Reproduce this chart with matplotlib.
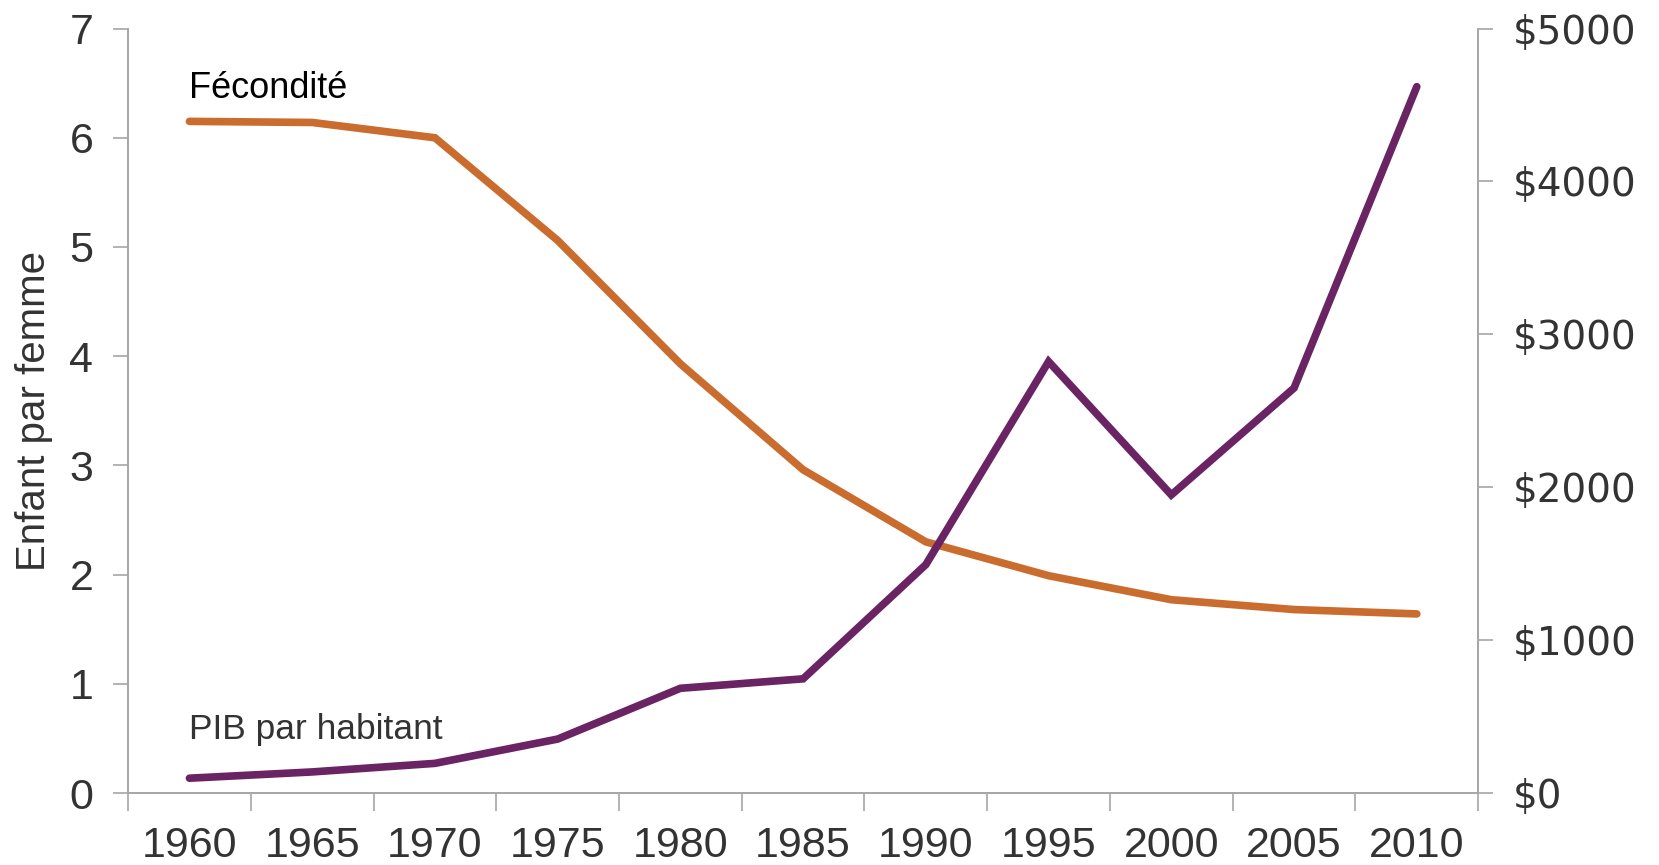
import matplotlib
matplotlib.use("Agg")
import matplotlib.pyplot as plt
import numpy as np

years = ["1960", "1965", "1970", "1975", "1980", "1985", "1990", "1995", "2000", "2005", "2010"]
fecondite = [6.15, 6.14, 6.00, 5.06, 3.93, 2.96, 2.30, 1.99, 1.77, 1.68, 1.64]
pib = [97, 138, 194, 353, 685, 747, 1494, 2822, 1950, 2649, 4620]
left_ticks = [0, 1, 2, 3, 4, 5, 6, 7]
right_ticks = [0, 1000, 2000, 3000, 4000, 5000]

orange = "#C96C2E"
purple = "#6A2363"
txt = "#333333"
grey = "#A6A6A6"

fig = plt.figure(figsize=(16.59, 8.65), dpi=100)
ax = fig.add_axes([0.0772, 0.0832, 0.8138, 0.8838])
ax2 = ax.twinx()

x = np.arange(len(years))
ax.plot(x, fecondite, color=orange, lw=5.5, solid_capstyle="round", solid_joinstyle="miter", zorder=3)
ax2.plot(x, pib, color=purple, lw=5.5, solid_capstyle="round", solid_joinstyle="miter", zorder=3)

ax.set_xlim(-0.5, len(years) - 0.5)
ax.set_ylim(0, 7)
ax2.set_ylim(0, 5000)

ax.set_xticks(x)
ax.set_xticklabels(years, fontname="Liberation Sans", fontsize=31, color=txt)
ax.set_xticks(np.arange(-0.5, len(years), 1.0), minor=True)
ax.tick_params(axis="x", which="major", length=0, pad=24)
ax.tick_params(axis="x", which="minor", length=13, width=1.2, color=grey, direction="out")

ax.set_yticks(left_ticks)
ax.set_yticklabels([str(t) for t in left_ticks], fontname="Liberation Sans", fontsize=31, color=txt)
ax.tick_params(axis="y", length=11, width=1.2, color=grey, pad=14)

ax2.set_yticks(right_ticks)
ax2.set_yticklabels(["$%d" % t for t in right_ticks], fontname="DejaVu Sans", fontsize=28, color=txt)
ax2.tick_params(axis="y", length=11, width=1.2, color=grey, pad=14)

for a in (ax, ax2):
    a.spines["top"].set_visible(False)
    for s in ("left", "right", "bottom"):
        a.spines[s].set_color(grey)
        a.spines[s].set_linewidth(1.2)

ax.set_ylabel("Enfant par femme", fontname="Liberation Sans", fontsize=29, color=txt, labelpad=12)

ax.text(0.0, 6.45, "Fécondité", fontname="Liberation Sans", fontsize=26, color="#000000",
        ha="left", va="center")
ax.text(0.0, 0.58, "PIB par habitant", fontname="Liberation Sans", fontsize=25.5, color=txt,
        ha="left", va="center")

fig.savefig("out.png", dpi=100)
